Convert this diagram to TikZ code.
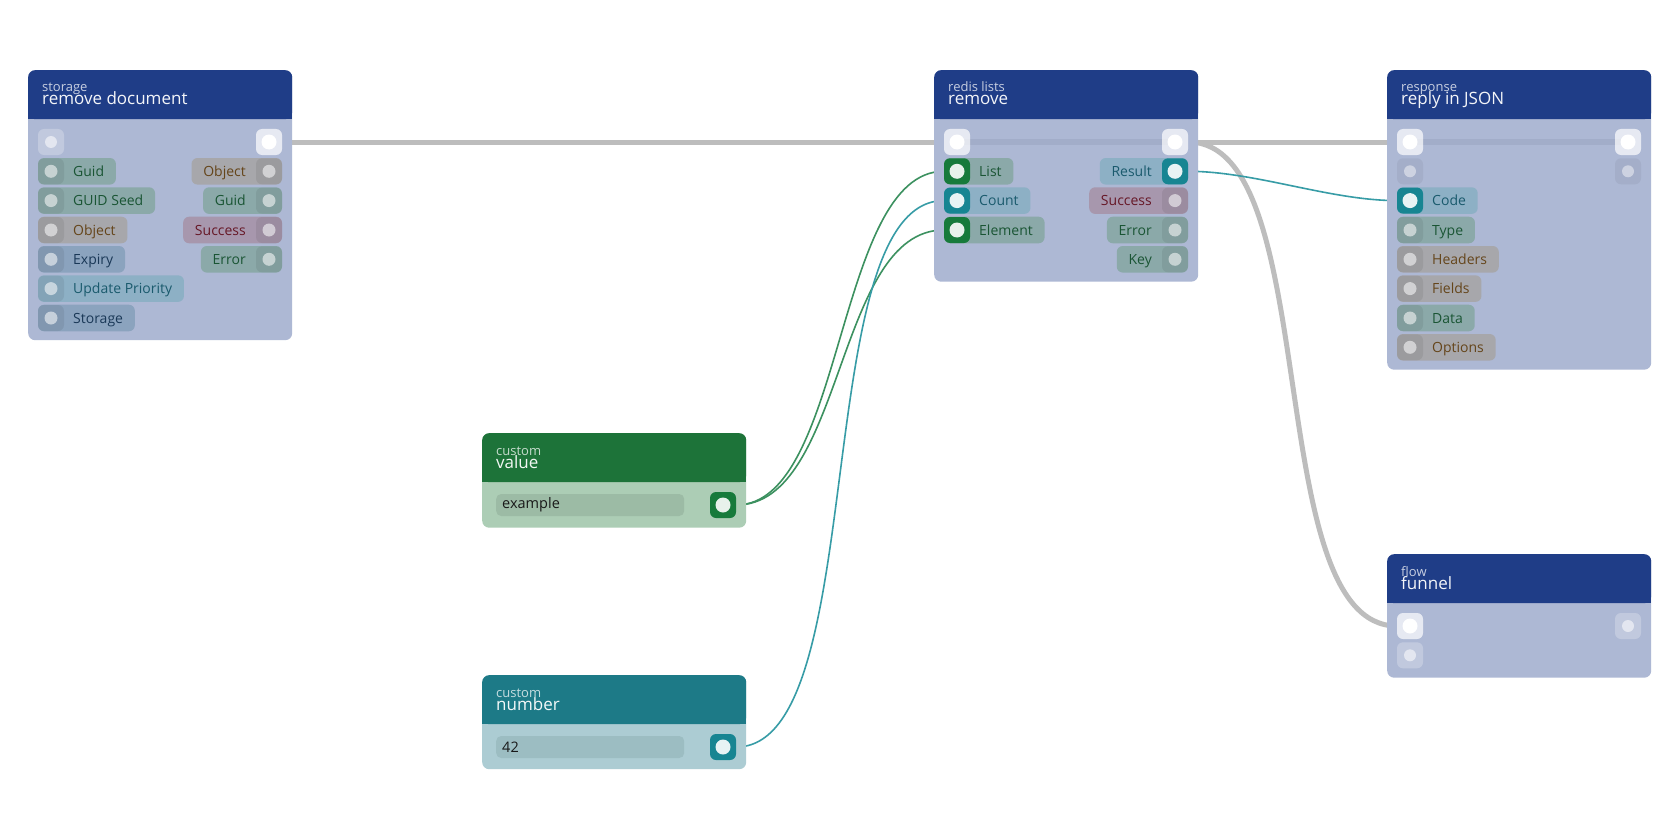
\documentclass[tikz,border=0pt]{standalone}
\usepackage{fontspec}
\setmainfont{Open Sans}
\usetikzlibrary{backgrounds}

\definecolor{hdrblue}{HTML}{1F3D87}
\definecolor{bodyblue}{HTML}{ADB8D4}
\definecolor{hdrgreen}{HTML}{1D7339}
\definecolor{bodygreen}{HTML}{ACCDB5}
\definecolor{fieldgreen}{HTML}{9CBBA5}
\definecolor{hdrteal}{HTML}{1D7A87}
\definecolor{bodyteal}{HTML}{ACCCD3}
\definecolor{fieldteal}{HTML}{9CBDC2}
\definecolor{pillgreen}{HTML}{8BA9A9}
\definecolor{pillgrey}{HTML}{A7A7AB}
\definecolor{pillmauve}{HTML}{A797AD}
\definecolor{pillblue}{HTML}{8BA3BE}
\definecolor{pillsky}{HTML}{8DB0C5}
\definecolor{txtgreen}{HTML}{1A5534}
\definecolor{txtbrown}{HTML}{65451A}
\definecolor{txtred}{HTML}{661726}
\definecolor{txtnavy}{HTML}{1A3857}
\definecolor{txtsky}{HTML}{1A5A6D}
\definecolor{linkgreen}{HTML}{177A3B}
\definecolor{linkteal}{HTML}{178592}
\definecolor{wiregrey}{HTML}{BDBDBD}
\definecolor{wiregreen}{HTML}{3C9160}
\definecolor{wireteal}{HTML}{379CA6}
\definecolor{bandblue}{HTML}{A2ADC9}

\newlength\pinw
\newcommand\pinfont{\fontsize{14}{16}\selectfont}

\tikzset{
  cardbody/.style={rectangle, anchor=north west, minimum width=264, inner sep=0, rounded corners=7},
  cardhead/.style={cardbody, minimum height=49},
  cardcat/.style={anchor=base west, inner sep=0, text=white, text opacity=.75, font=\fontsize{13}{14}\selectfont},
  cardtitle/.style={anchor=base west, inner sep=0, text=white, text opacity=.95, font=\fontsize{17}{18}\selectfont},
  portbox/.style={rectangle, minimum size=26, inner sep=0, rounded corners=6},
  idle/.style={fill=black, fill opacity=.07},
  idle dot/.style={circle, minimum size=13, inner sep=0, fill=white, fill opacity=.55},
  linkg/.style={fill=linkgreen},
  linkg dot/.style={circle, minimum size=15, inner sep=0, fill=white, fill opacity=.9},
  linkt/.style={fill=linkteal},
  linkt dot/.style={linkg dot},
  execon/.style={fill=white, fill opacity=.7},
  execon dot/.style={circle, minimum size=15, inner sep=0, fill=white},
  execoff/.style={fill=white, fill opacity=.25},
  execoff dot/.style={circle, minimum size=12, inner sep=0, fill=white, fill opacity=.55},
  plainport/.style={fill=black, fill opacity=.05},
  plainport dot/.style={circle, minimum size=12, inner sep=0, fill=white, fill opacity=.45},
  pinlabel/.style={inner sep=0, font=\pinfont},
  fieldbox/.style={anchor=west, minimum width=188, minimum height=22, inner xsep=6, inner ysep=0,
    text width=176, align=left, rounded corners=5, text=black!90, font=\fontsize{14.5}{16}\selectfont},
  band/.style={bandblue, line width=5.5},
  execwire/.style={wiregrey, line width=5},
  greenwire/.style={wiregreen, line width=1.6},
  tealwire/.style={wireteal, line width=1.6}
}

% card: name, x, y, height, head colour, body colour, category, title
\newcommand\card[8]{%
  \node[cardbody, fill=#6, minimum height=#4] (#1) at (#2,#3) {};
  \node[cardhead, fill=#5] (#1-head) at (#2,#3) {};
  \fill[#5] (#2,#3+40) rectangle (#2+264,#3+49);
  \node[cardcat] (#1-cat) at (#2+14,#3+22) {#7};
  \node[cardtitle] (#1-title) at (#2+14,#3+35) {#8};
}
% port: name, x, y, look
\newcommand\port[4]{%
  \node[portbox, #4] (#1) at (#2,#3) {};
  \node[#4 dot] (#1-dot) at (#1) {};
}
% width of a pin label
\newcommand\measure[1]{%
  \pgfinterruptpicture\settowidth\pinw{\pinfont #1}\global\pinw=\pinw\endpgfinterruptpicture}
% input pin: name, card x, row y, label, pill, text colour, look
\newcommand\pinL[7]{%
  \measure{#4}%
  \pgfmathsetmacro\pinx{#2+57+\pinw}%
  \fill[#5, rounded corners=6] (#2+10,#3-13.3) rectangle (\pinx,#3+13.3);
  \port{#1}{#2+23}{#3}{#7}
  \node[pinlabel, anchor=base west, text=#6] (#1-label) at (#2+45,#3+5) {#4};
}
% output pin: name, card x, row y, label, pill, text colour, look
\newcommand\pinR[7]{%
  \measure{#4}%
  \pgfmathsetmacro\pinx{#2+206-\pinw}%
  \fill[#5, rounded corners=6] (\pinx,#3-13.3) rectangle (#2+254,#3+13.3);
  \port{#1}{#2+241}{#3}{#7}
  \node[pinlabel, anchor=base east, text=#6] (#1-label) at (#2+218,#3+5) {#4};
}

\begin{document}
\begin{tikzpicture}[x=1pt, y=-1pt]

  \useasboundingbox (0,0) rectangle (1680,840);

  % storage
  \card{st}{28}{70}{270}{hdrblue}{bodyblue}{storage}{remove document}
  \port{st-exin}{51}{142}{execoff}
  \port{st-exout}{269}{142}{execon}
  \pinL{st-guid}{28}{171.3}{Guid}{pillgreen}{txtgreen}{idle}
  \pinL{st-seed}{28}{200.6}{GUID Seed}{pillgreen}{txtgreen}{idle}
  \pinL{st-object}{28}{230}{Object}{pillgrey}{txtbrown}{idle}
  \pinL{st-expiry}{28}{259.3}{Expiry}{pillblue}{txtnavy}{idle}
  \pinL{st-priority}{28}{288.6}{Update Priority}{pillsky}{txtsky}{idle}
  \pinL{st-storage}{28}{318}{Storage}{pillblue}{txtnavy}{idle}
  \pinR{st-robject}{28}{171.3}{Object}{pillgrey}{txtbrown}{idle}
  \pinR{st-rguid}{28}{200.6}{Guid}{pillgreen}{txtgreen}{idle}
  \pinR{st-success}{28}{230}{Success}{pillmauve}{txtred}{idle}
  \pinR{st-error}{28}{259.3}{Error}{pillgreen}{txtgreen}{idle}

  % redis lists
  \card{rd}{934}{70}{211.5}{hdrblue}{bodyblue}{redis lists}{remove}
  \draw[band] (957,142) -- (1175,142);
  \port{rd-exin}{957}{142}{execon}
  \port{rd-exout}{1175}{142}{execon}
  \pinL{rd-list}{934}{171.3}{List}{pillgreen}{txtgreen}{linkg}
  \pinL{rd-count}{934}{200.6}{Count}{pillsky}{txtsky}{linkt}
  \pinL{rd-element}{934}{230}{Element}{pillgreen}{txtgreen}{linkg}
  \pinR{rd-result}{934}{171.3}{Result}{pillsky}{txtsky}{linkt}
  \pinR{rd-success}{934}{200.6}{Success}{pillmauve}{txtred}{idle}
  \pinR{rd-error}{934}{230}{Error}{pillgreen}{txtgreen}{idle}
  \pinR{rd-key}{934}{259.3}{Key}{pillgreen}{txtgreen}{idle}

  % response
  \card{rs}{1387}{70}{299.5}{hdrblue}{bodyblue}{response}{reply in JSON}
  \draw[band] (1410,142) -- (1628,142);
  \port{rs-exin}{1410}{142}{execon}
  \port{rs-exout}{1628}{142}{execon}
  \port{rs-in}{1410}{171.3}{plainport}
  \port{rs-out}{1628}{171.3}{plainport}
  \pinL{rs-code}{1387}{200.6}{Code}{pillsky}{txtsky}{linkt}
  \pinL{rs-type}{1387}{230}{Type}{pillgreen}{txtgreen}{idle}
  \pinL{rs-headers}{1387}{259.3}{Headers}{pillgrey}{txtbrown}{idle}
  \pinL{rs-fields}{1387}{288.6}{Fields}{pillgrey}{txtbrown}{idle}
  \pinL{rs-data}{1387}{318}{Data}{pillgreen}{txtgreen}{idle}
  \pinL{rs-options}{1387}{347.3}{Options}{pillgrey}{txtbrown}{idle}

  % custom value
  \card{vl}{482}{433}{94.5}{hdrgreen}{bodygreen}{custom}{value}
  \node[fieldbox, fill=fieldgreen] (vl-field) at (496,505) {example};
  \port{vl-out}{723}{505}{linkg}

  % custom number
  \card{nm}{482}{675}{94}{hdrteal}{bodyteal}{custom}{number}
  \node[fieldbox, fill=fieldteal] (nm-field) at (496,747) {42};
  \port{nm-out}{723}{747}{linkt}

  % flow funnel
  \card{fn}{1387}{554}{123.5}{hdrblue}{bodyblue}{flow}{funnel}
  \port{fn-exin}{1410}{626}{execon}
  \port{fn-exout}{1628}{626}{execoff}
  \port{fn-in}{1410}{655.3}{execoff}

  % wires
  \begin{scope}[on background layer]
    \fill[white] (0,0) rectangle (1680,840);
    \draw[execwire] (st-exout) -- (rd-exin);
    \draw[execwire] (rd-exout) -- (rs-exin);
    \draw[execwire] (rd-exout) .. controls +(150,0) and +(-150,0) .. (fn-exin);
    \draw[tealwire] (rd-result) .. controls +(80,0) and +(-80,0) .. (rs-code);
    \draw[greenwire] (vl-out) .. controls +(122,0) and +(-122,0) .. (rd-list);
    \draw[greenwire] (vl-out) .. controls +(122,0) and +(-122,0) .. (rd-element);
    \draw[tealwire] (nm-out) .. controls +(150,0) and +(-150,0) .. (rd-count);
  \end{scope}

\end{tikzpicture}
\end{document}
